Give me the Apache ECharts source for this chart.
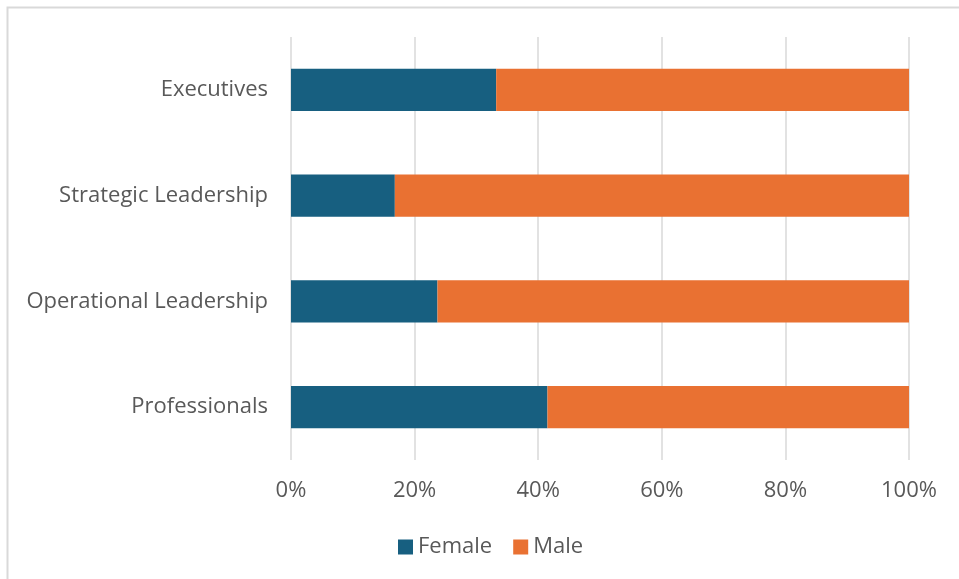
<!DOCTYPE html>
<html><head><meta charset="utf-8">
<script src="https://cdn.jsdelivr.net/npm/echarts@6/dist/echarts.min.js"></script>
<style>html,body{margin:0;padding:0;background:#fff}#c{width:959px;height:579px}</style>
</head><body><div id="c"></div>
<script>
const categories = ['Professionals', 'Operational Leadership', 'Strategic Leadership', 'Executives'];
const female = [41.5, 23.7, 16.8, 33.2];
const male = [58.5, 76.3, 83.2, 66.8];
const seriesNames = ['Female', 'Male'];
const colors = ['#175f80', '#e97132'];
const FONT = 'Open Sans';
const chart = echarts.init(document.getElementById('c'), null, {renderer: 'canvas'});
chart.setOption({
  animation: false,
  textStyle: {fontFamily: FONT},
  graphic: [{type: 'polyline', shape: {points: [[7.5, 579], [7.5, 7.5], [959, 7.5]]}, style: {stroke: '#d9d9d9', lineWidth: 2, fill: null}, silent: true}],
  grid: {left: 291, right: 50, top: 37, bottom: 119, containLabel: false},
  legend: {
    top: 531, left: 393, itemWidth: 15, itemHeight: 15, itemGap: 21,
    icon: 'rect',
    textStyle: {color: '#595959', fontSize: 22, fontFamily: FONT},
    data: seriesNames
  },
  xAxis: {
    type: 'value', min: 0, max: 100, interval: 20,
    axisLabel: {formatter: '{value}%', color: '#595959', fontSize: 22, margin: 20, fontFamily: FONT},
    splitLine: {lineStyle: {color: '#d9d9d9', width: 1.5}},
    axisLine: {show: false}, axisTick: {show: false}
  },
  yAxis: {
    type: 'category', data: categories,
    axisLabel: {color: '#595959', fontSize: 22, margin: 23, fontFamily: FONT},
    axisLine: {show: false}, axisTick: {show: false}
  },
  series: [
    {name: seriesNames[0], type: 'bar', stack: 's', data: female, barWidth: '40%', itemStyle: {color: colors[0]}},
    {name: seriesNames[1], type: 'bar', stack: 's', data: male, barWidth: '40%', itemStyle: {color: colors[1]}}
  ]
});
</script></body></html>
